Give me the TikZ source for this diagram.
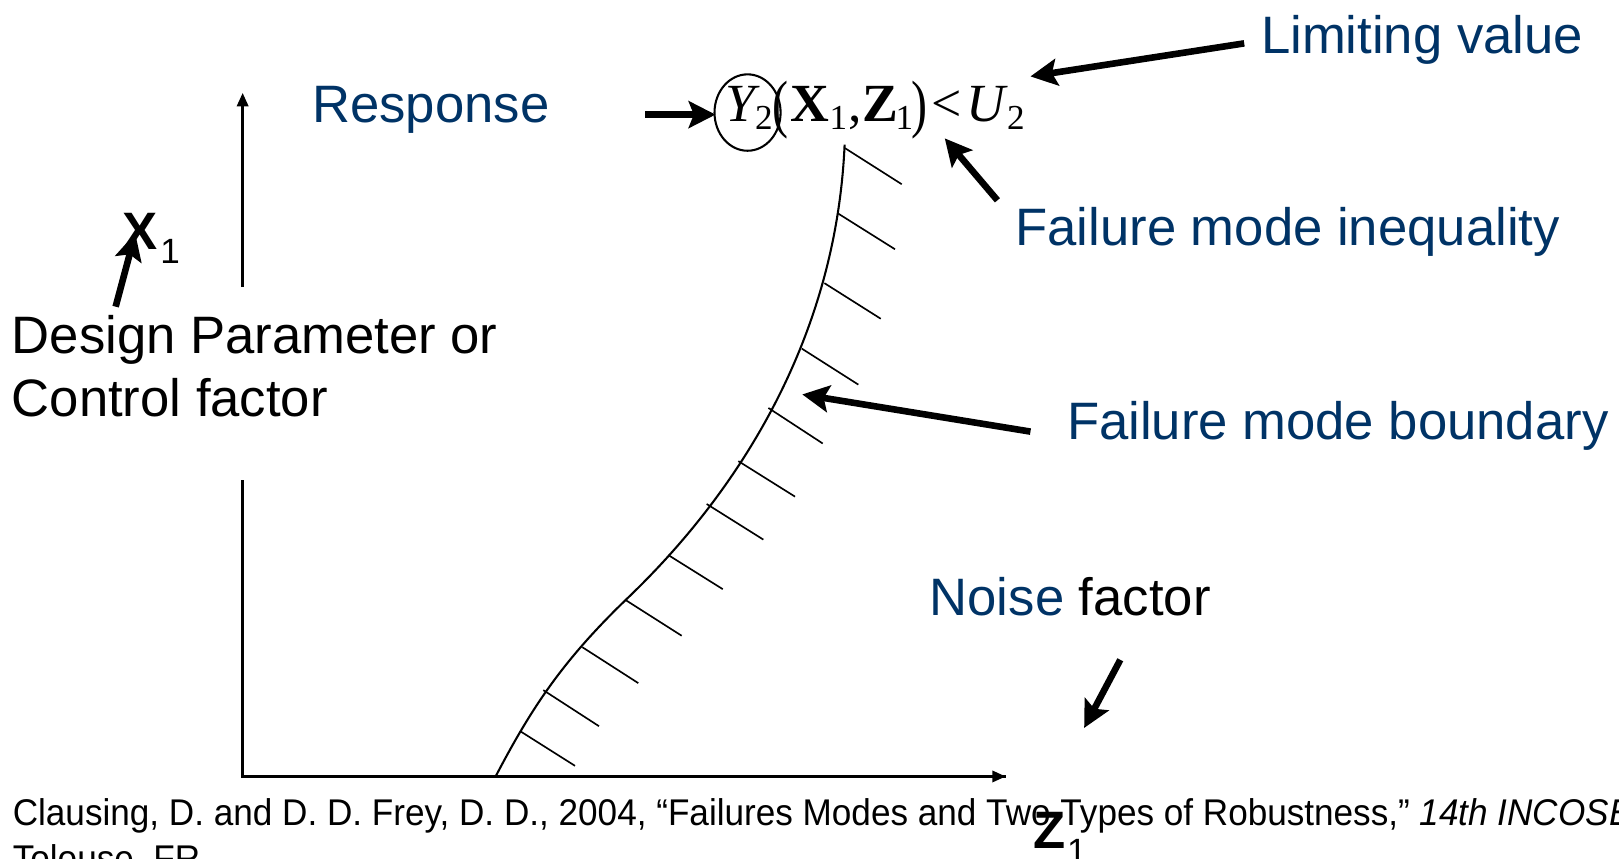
\documentclass[tikz,border=0pt]{standalone}
\usepackage{fontspec}
\setmainfont{Liberation Sans}
\newfontfamily\tms{Liberation Serif}
\usetikzlibrary{arrows.meta}
\definecolor{navy}{RGB}{0,51,102}
\tikzset{
  lbl/.style={inner sep=0pt, anchor=base west, font=\fontsize{25.5}{30}\selectfont},
  bluelbl/.style={lbl, text=navy},
  fm/.style={inner sep=0pt, anchor=base west, font=\tms\fontsize{26}{26}\selectfont},
  fsub/.style={inner sep=0pt, anchor=base west, font=\tms\fontsize{17}{17}\selectfont},
  fpar/.style={inner sep=0pt, anchor=base west, font=\tms\fontsize{31}{31}\selectfont},
  fat/.style={line width=3.2pt, -{Stealth[length=13pt,width=13pt,inset=2.5pt]}},
  axis/.style={line width=1.2pt},
  axarrow/.style={line width=1.2pt, -{Triangle[length=6.5pt,width=5.5pt]}},
  hatch/.style={line width=0.8pt},
}
\begin{document}
\begin{tikzpicture}[x=0.5pt,y=-0.5pt]
\useasboundingbox (0,0) rectangle (1568,831);

% axes
\coordinate (O) at (235,752);
\coordinate (Ytop) at (235,90);
\coordinate (Ygap1) at (235,465);
\coordinate (Ygap2) at (235,278);
\coordinate (Xend) at (974,752);
\draw[axis] (Ygap1) -- (O) -- (Xend);
\draw[axarrow] (O) -- (Xend);
\draw[axarrow] (Ygap2) -- (Ytop);

% failure boundary curve
\coordinate (c0) at (480,752);
\coordinate (c1) at (606,581);
\coordinate (c2) at (818,140);
\draw[line width=1pt] (c0) .. controls (515,685) and (545,640) .. (c1)
  .. controls (670,520) and (808,370) .. (c2);
% hatches
\foreach \a/\b/\c/\d in {
 818.4/143.5/873.3/178.4,
 811.9/206.9/866.8/241.4,
 798.4/274.2/853/308.7,
 776.5/337.6/831.3/372.5,
 744.2/395.1/796.8/429.5,
 715.1/446.6/770/481,
 684.4/488.1/739.3/522.6,
 647.3/537.6/700/570.6,
 606/581.2/660.2/615.7,
 564/626.8/618.2/661.6,
 526.2/668.4/580.1/703.3,
 503.6/708/556.9/741.7}
 \draw[hatch] (\a,\b) -- (\c,\d);

% labels
\node[bluelbl] (resp) at (302,119) {Response};
\node[bluelbl] (limit) at (1221,52) {Limiting value};
\node[bluelbl] (ineq) at (983,238) {Failure mode inequality};
\node[bluelbl] (bound) at (1033,426) {Failure mode boundary};
\node[lbl] (noise) at (900,596) {\textcolor{navy}{Noise} factor};
\node[lbl] (dp1) at (11,342) {Design Parameter or};
\node[lbl] (dp2) at (11,403) {Control factor};

% axis names
\node[lbl, font=\fontsize{25.5}{30}\selectfont\bfseries] (xlab) at (118,242) {X};
\node[lbl, font=\fontsize{17}{20}\selectfont] (xsub) at (155,255) {1};
\node[lbl, font=\fontsize{25.5}{30}\selectfont\bfseries] (zlab) at (1001,822) {Z};
\node[lbl, font=\fontsize{17}{20}\selectfont] (zsub) at (1033,836) {1};

% formula
\node[fm] (fY) at (702,118) {\itshape Y};
\node[fsub] (fY2) at (731,125) {2};
\node[fpar] (fpl) at (748,122) {\scalebox{0.75}[1]{(}};
\node[fm] (fX) at (765,118) {\bfseries X};
\node[fsub] (fX1) at (803,125) {1};
\node[fm] (fcomma) at (821,118) {,};
\node[fm] (fZ) at (835,118) {\bfseries Z};
\node[fsub] (fZ1) at (867,125) {1};
\node[fpar] (fpr) at (882,122) {\scalebox{0.75}[1]{)}};
\node[fm] (flt) at (902,118) {<};
\node[fm] (fU) at (936,118) {\itshape U};
\node[fsub] (fU2) at (975,125) {2};
\draw[line width=1pt] (724,109) ellipse [x radius=32, y radius=37];

% citation
\node[inner sep=0pt, anchor=base west, font=\fontsize{18}{20}\selectfont] (cite1) at (12,799)
 {\scalebox{0.945}[1]{Clausing, D. and D. D. Frey, D. D., 2004, “Failures Modes and Two Types of Robustness,” \textit{14th INCOSE}}};
\node[inner sep=0pt, anchor=base west, font=\fontsize{18}{20}\selectfont] (cite2) at (12,844)
 {\scalebox{0.945}[1]{Tolouse, FR}};

% thick arrows
\coordinate (a1s) at (1205,42);  \coordinate (a1e) at (998,74);
\coordinate (a2s) at (966,194);  \coordinate (a2e) at (915,134);
\coordinate (a3s) at (998,418);  \coordinate (a3e) at (777,382);
\coordinate (a4s) at (1085,639); \coordinate (a4e) at (1050,705);
\coordinate (a5s) at (112,297);  \coordinate (a5e) at (131,226);
\coordinate (a6s) at (625,111);  \coordinate (a6e) at (693,111);
\draw[fat] (a1s) -- (a1e);
\draw[fat] (a2s) -- (a2e);
\draw[fat] (a3s) -- (a3e);
\draw[fat] (a4s) -- (a4e);
\draw[fat] (a5s) -- (a5e);
\draw[fat] (a6s) -- (a6e);
\end{tikzpicture}
\end{document}
